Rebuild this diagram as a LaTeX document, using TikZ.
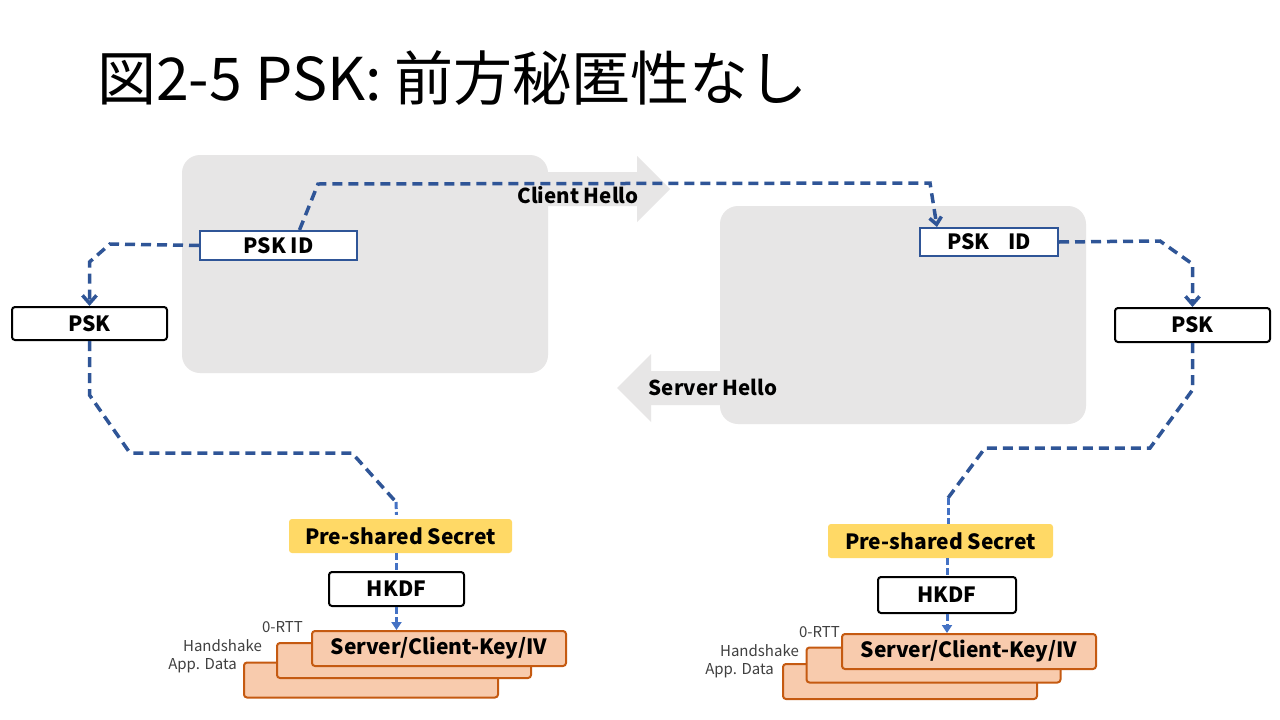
\documentclass[tikz,border=0pt]{standalone}
\usepackage{fontspec}
\setmainfont{Noto Sans CJK JP}
\usepackage{tikz}
\usetikzlibrary{arrows.meta}
\definecolor{slideGray}{RGB}{231, 230, 230}
\definecolor{linkBlue}{RGB}{47, 85, 151}
\definecolor{lightBlue}{RGB}{68, 114, 196}
\definecolor{secretGold}{RGB}{255, 217, 102}
\definecolor{keyFill}{RGB}{248, 203, 173}
\definecolor{keyEdge}{RGB}{197, 90, 17}
\tikzset{
  graybox/.style={fill=slideGray, rounded corners=18pt, inner sep=0pt},
  msgarrow/.style={fill=slideGray},
  msglabel/.style={font=\fontsize{20.5}{22}\selectfont\bfseries},
  idbox/.style={draw=linkBlue, line width=2pt, fill=white, inner sep=0pt,
    font=\fontsize{21}{23}\selectfont\bfseries},
  pskbox/.style={draw=black, line width=2pt, fill=white, rounded corners=3pt, inner sep=0pt,
    font=\fontsize{21}{23}\selectfont\bfseries},
  secretbox/.style={fill=secretGold, rounded corners=3pt, inner sep=0pt,
    font=\fontsize{21}{23}\selectfont\bfseries},
  keybox/.style={draw=keyEdge, line width=2pt, fill=keyFill, rounded corners=3pt, inner sep=0pt,
    minimum width=254pt, minimum height=35pt, font=\fontsize{21}{23}\selectfont\bfseries},
  sidelabel/.style={text=black!75, inner sep=0pt, font=\fontsize{15}{17}\selectfont},
  dlink/.style={draw=linkBlue, line width=3.5pt, dash pattern=on 10pt off 6pt},
  llink/.style={draw=lightBlue, line width=3pt, dash pattern=on 7pt off 3pt}
}

\begin{document}
\begin{tikzpicture}[x=1pt, y=-1pt]

  \path[use as bounding box, fill=white] (0, 0) rectangle (1280, 720);

  \node[anchor=base west, inner sep=0pt, font=\fontsize{59}{62}\selectfont] (title) at (97, 100) {図2-5 PSK: 前方秘匿性なし};

  % client / server
  \node[graybox, minimum width=366pt, minimum height=218pt] (clientbox) at (365, 264) {};
  \node[graybox, minimum width=366pt, minimum height=218pt] (serverbox) at (903, 315) {};

  \fill[msgarrow] (548, 172) -- (637, 172) -- (637, 156) -- (670, 189) -- (637, 222) -- (637, 206) -- (548, 206) -- cycle;
  \fill[msgarrow] (720, 371) -- (651, 371) -- (651, 354) -- (617, 388) -- (651, 422) -- (651, 405) -- (720, 405) -- cycle;
  \node[msglabel] (chello) at (578, 195) {Client Hello};
  \node[msglabel] (shello) at (713, 387) {Server Hello};

  \node[idbox, minimum width=157pt, minimum height=29pt] (pskidL) at (278.5, 245.5) {PSK ID};
  \node[idbox, minimum width=138pt, minimum height=28pt] (pskidR) at (989, 242) {PSK\hspace{0.9em}ID};

  \node[pskbox, minimum width=155pt, minimum height=33pt] (pskL) at (89.5, 323.5) {PSK};
  \node[pskbox, minimum width=155pt, minimum height=34pt] (pskR) at (1192.5, 325) {PSK};

  % key schedule
  \node[secretbox, minimum width=223pt, minimum height=34pt] (secretL) at (400.5, 536) {Pre-shared Secret};
  \node[pskbox, minimum width=135pt, minimum height=34pt] (hkdfL) at (396.5, 589) {HKDF};
  \node[keybox] (keyL3) at (371, 680) {};
  \node[keybox] (keyL2) at (404, 660.5) {};
  \node[keybox] (keyL1) at (439, 648.5) {Server/Client-Key/IV};
  \node[sidelabel, anchor=base east] (rttL) at (303, 632) {0-RTT};
  \node[sidelabel, anchor=base east] (hsL) at (262, 651) {Handshake};
  \node[sidelabel, anchor=base east] (appL) at (237, 669) {App. Data};

  \node[secretbox, minimum width=225pt, minimum height=34pt] (secretR) at (940.5, 541) {Pre-shared Secret};
  \node[pskbox, minimum width=138pt, minimum height=36pt] (hkdfR) at (947, 595) {HKDF};
  \node[keybox] (keyR3) at (910, 681.5) {};
  \node[keybox] (keyR2) at (933.5, 665) {};
  \node[keybox] (keyR1) at (969, 651.5) {Server/Client-Key/IV};
  \node[sidelabel, anchor=base east] (rttR) at (840, 637) {0-RTT};
  \node[sidelabel, anchor=base east] (hsR) at (799, 656) {Handshake};
  \node[sidelabel, anchor=base east] (appR) at (774, 674) {App. Data};

  % links
  \draw[dlink, -{Straight Barb[length=7pt, width=12pt]}] ([xshift=21pt]pskidL.north) -- (318, 184) -- (930, 183) -- ([xshift=-52pt]pskidR.north);
  \draw[dlink, -{Straight Barb[length=8pt, width=14pt]}] (pskidL.west) -- (110, 244) -- (89.5, 262) -- (pskL.north);
  \draw[dlink] (pskL.south) -- (89.5, 395) -- (130, 453) -- (352, 453) -- (396, 502) coordinate (turnL);
  \draw[llink] (turnL) -- ([xshift=-4pt, yshift=4pt]secretL.north);
  \draw[dlink, -{Straight Barb[length=8pt, width=14pt]}] (pskidR.east) -- (1160, 241) -- (1192.5, 264) -- (pskR.north);
  \draw[dlink] (pskR.south) -- (1192.5, 390) -- (1150, 448) -- (985, 448) -- (948, 498) coordinate (turnR);
  \draw[llink] (turnR) -- ([xshift=7.5pt]secretR.north);

  \draw[llink] (secretL.south -| hkdfL) -- (hkdfL.north);
  \draw[llink, -{Triangle[length=8pt, width=10pt]}] (hkdfL.south) -- (hkdfL.south |- keyL1.north);
  \draw[llink] (secretR.south -| hkdfR) -- (hkdfR.north);
  \draw[llink, -{Triangle[length=8pt, width=10pt]}] (hkdfR.south) -- (hkdfR.south |- keyR1.north);

\end{tikzpicture}
\end{document}
